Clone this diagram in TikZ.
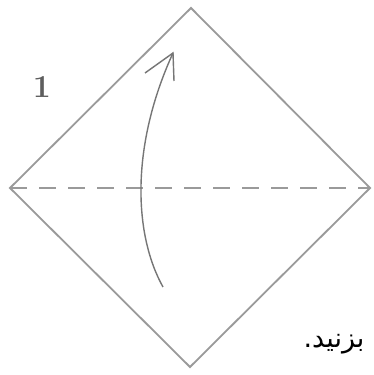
\documentclass[tikz,border=0pt]{standalone}
\usepackage{fontspec}
\TeXXeTstate=1
\newfontfamily\arabicfont[Script=Arabic]{DejaVu Sans}
\definecolor{foldgray}{HTML}{9A9A9A}
\definecolor{numgray}{HTML}{5E5E5E}
\tikzset{
  edge/.style={draw=foldgray, line width=1.8pt, line join=miter},
  valley/.style={draw=foldgray, line width=1.8pt, dash pattern=on 17pt off 12pt},
  foldarrow/.style={draw=numgray!85, line width=1.4pt},
}
\begin{document}
\begin{tikzpicture}[x=1pt,y=1pt]
\useasboundingbox (0,0) rectangle (374,375);
\fill[white] (0,0) rectangle (374,375);
% corners of the square
\coordinate (T) at (191,367);
\coordinate (L) at (10,187);
\coordinate (R) at (370,187);
\coordinate (B) at (190,8);
\draw[edge] (T) -- (R) -- (B) -- (L) -- cycle;
\draw[valley] (L) -- (R);
% fold arrow
\coordinate (S) at (163,88);
\coordinate (E) at (173,322);
\coordinate (BL) at (145,302);
\coordinate (BR) at (174,294);
\draw[foldarrow] (S) .. controls (134,140) and (130,228) .. (E);
\draw[foldarrow, line join=miter] (BL) -- (E) -- (BR);
% labels
\node[text=numgray, font=\bfseries\fontsize{32}{32}\selectfont] (n1) at (42,288) {1};
\node[text=black, font=\arabicfont\fontsize{27}{27}\selectfont] (txt) at (334,31) {\beginR بزنید.\endR};
\end{tikzpicture}
\end{document}
